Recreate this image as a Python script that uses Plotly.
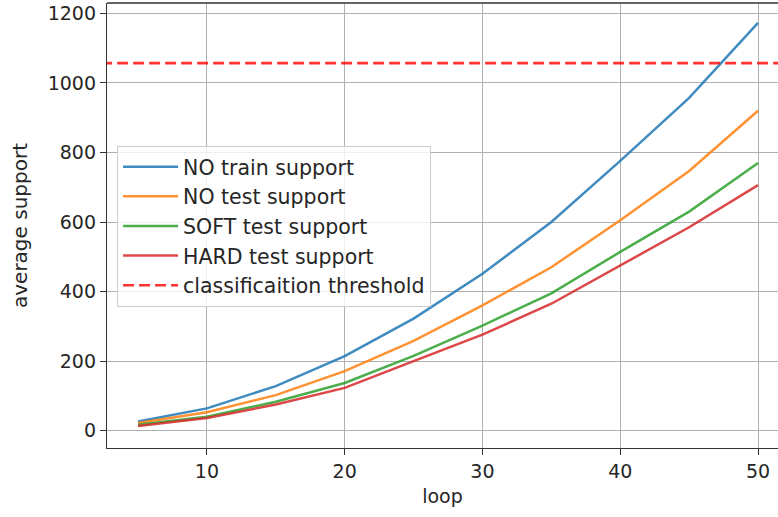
import plotly.graph_objects as go

loops = [5, 10, 15, 20, 25, 30, 35, 40, 45, 50]
no_train = [26, 64, 128, 214, 322, 451, 600, 776, 957, 1173]
no_test = [22, 53, 102, 171, 258, 360, 470, 605, 747, 920]
soft_test = [17, 40, 83, 137, 215, 302, 395, 514, 630, 770]
hard_test = [13, 36, 75, 123, 200, 276, 365, 475, 585, 706]
threshold = 1057

series = [
    ("NO train support", no_train, "rgba(31,119,180,0.85)"),
    ("NO test support", no_test, "rgba(255,127,14,0.85)"),
    ("SOFT test support", soft_test, "rgba(44,160,44,0.85)"),
    ("HARD test support", hard_test, "rgba(214,39,40,0.85)"),
]

FONT = "DejaVu Sans"
fig = go.Figure()
for name, vals, col in series:
    fig.add_trace(go.Scatter(x=loops, y=vals, mode="lines", name=name,
                             line=dict(color=col, width=2.5)))

fig.add_trace(go.Scatter(x=[0, 60], y=[threshold, threshold], mode="lines",
                         name="classificaition threshold",
                         line=dict(color="rgba(255,0,0,0.8)", width=2.6, dash="11px,5px")))

fig.update_layout(
    width=778, height=517,
    margin=dict(l=107, r=0, t=3, b=69),
    paper_bgcolor="white", plot_bgcolor="white",
    font=dict(family=FONT, size=18, color="#262626"),
    showlegend=True,
    legend=dict(x=0.015, y=0.679, xanchor="left", yanchor="top",
                bgcolor="rgba(255,255,255,0.8)", bordercolor="#cccccc", borderwidth=1,
                font=dict(family=FONT, size=20.5, color="#262626"),
                itemwidth=55),
    shapes=[dict(type="line", xref="paper", yref="paper", x0=0, x1=1, y0=1, y1=1,
                 line=dict(color="#333333", width=1.4))],
)
fig.update_xaxes(range=[2.75, 51.45], tickvals=[10, 20, 30, 40, 50],
                 automargin=False,
                 showgrid=True, gridcolor="#b0b0b0", gridwidth=1.2,
                 showline=True, linecolor="#333333", linewidth=1.4,
                 ticks="outside", ticklen=6, tickcolor="#333333", tickwidth=1.2,
                 zeroline=False,
                 title=dict(text="loop", font=dict(family=FONT, size=19), standoff=8),
                 tickfont=dict(family=FONT, size=19))
fig.update_yaxes(range=[-50, 1230], tickvals=[0, 200, 400, 600, 800, 1000, 1200],
                 automargin=False,
                 showgrid=True, gridcolor="#b0b0b0", gridwidth=1.2,
                 showline=True, linecolor="#333333", linewidth=1.4,
                 ticks="outside", ticklen=6, tickcolor="#333333", tickwidth=1.2,
                 zeroline=False,
                 title=dict(text="average support", font=dict(family=FONT, size=20), standoff=14),
                 tickfont=dict(family=FONT, size=19))

fig.write_html("out.html", config={"displayModeBar": False},
               post_script="document.body.style.margin='0';")
